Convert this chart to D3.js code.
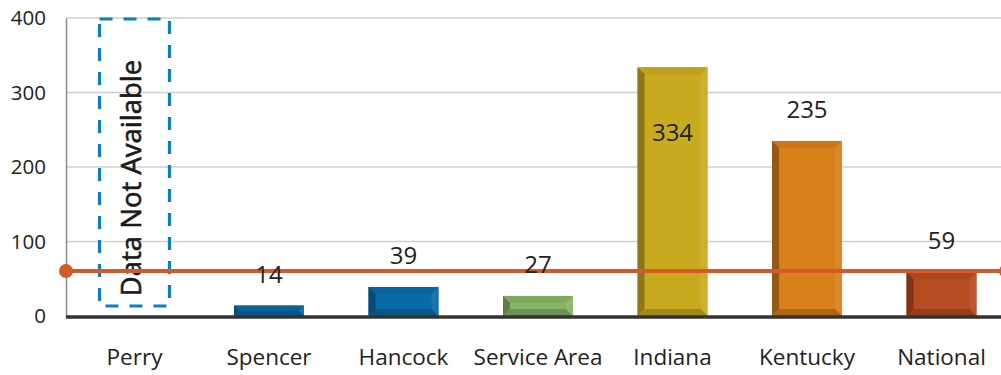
<!DOCTYPE html>
<html><head><meta charset="utf-8">
<script src="https://cdn.jsdelivr.net/npm/d3@7"></script>
<style>body{margin:0;background:#fff}svg{display:block;font-family:"Open Sans","Noto Sans",sans-serif}</style>
</head><body>
<svg id="c" width="1001" height="375"></svg>
<script>
const categories = ["Perry","Spencer","Hancock","Service Area","Indiana","Kentucky","National"];
const values = [null,14,39,27,334,235,59];
const colors = ["#0a7fc4","#0a6aa8","#0a6aa8","#8ab466","#c9aa1e","#d8801c","#b74c22"];
const yTicks = [0,100,200,300,400];
const benchmark = 59;
const naText = "Data Not Available";

(function(){
const svg = d3.select("#c");
const pl = 66, pr = 1001, pt = 18, pb = 316;
const x = d3.scaleBand().domain(categories).range([67.25, 1008.75]).paddingInner(0.48).paddingOuter(0.24);
const y = d3.scaleLinear().domain([0,400]).range([pb, pt]);

// gridlines
svg.append("g").selectAll("line").data(yTicks.filter(d=>d>0)).join("line")
  .attr("x1", pl).attr("x2", pr).attr("y1", d=>y(d)).attr("y2", d=>y(d))
  .attr("stroke", "#cfcfcf").attr("stroke-width", 1.3);

// y axis
const ya = svg.append("g").attr("transform", `translate(${pl},0)`)
  .call(d3.axisLeft(y).tickValues(yTicks).tickSize(0).tickPadding(20));
ya.select(".domain").attr("stroke", "#8a8a8a").attr("stroke-width", 1.5);
ya.selectAll("text").attr("font-size", 20.5).attr("fill", "#222").attr("font-family", "'Open Sans',sans-serif");

function shade(c, k){ return k>0 ? d3.interpolateRgb(c, "#fff")(k) : d3.interpolateRgb(c, "#000")(-k); }

// bars with bevel
const bw = x.bandwidth(), bev = 7;
const bars = svg.append("g").selectAll("g").data(categories.map((c,i)=>({c, v:values[i], col:colors[i]})).filter(d=>d.v!=null)).join("g");
bars.each(function(d){
  const g = d3.select(this);
  const x0 = x(d.c), x1 = x0 + bw, y0 = y(d.v), y1 = y(0);
  const b = Math.min(bev, (y1 - y0) / 2);
  g.append("rect").attr("x", x0).attr("y", y0).attr("width", bw).attr("height", y1-y0).attr("fill", d.col);
  g.append("polygon").attr("points", [[x0,y0],[x1,y0],[x1-b,y0+b],[x0+b,y0+b]].join(" ")).attr("fill", shade(d.col,-0.06));
  g.append("polygon").attr("points", [[x0,y0],[x0+b,y0+b],[x0+b,y1-b],[x0,y1]].join(" ")).attr("fill", shade(d.col,-0.3));
  g.append("polygon").attr("points", [[x1,y0],[x1-b,y0+b],[x1-b,y1-b],[x1,y1]].join(" ")).attr("fill", shade(d.col,0.06));
  g.append("polygon").attr("points", [[x0,y1],[x0+b,y1-b],[x1-b,y1-b],[x1,y1]].join(" ")).attr("fill", shade(d.col,-0.2));
});

// Perry not available box
const px = x("Perry");
svg.append("rect").attr("x", px).attr("y", pt+1).attr("width", bw).attr("height", 287)
  .attr("fill", "none").attr("stroke", "#0a7fc4").attr("stroke-width", 3.2).attr("stroke-dasharray", "13,11");
svg.append("text").attr("transform", `translate(${px+bw/2-1},${178}) rotate(-90)`)
  .attr("text-anchor", "middle").attr("dominant-baseline", "middle").attr("font-size", 27.5)
  .attr("fill", "#1a1a1a").attr("stroke", "#1a1a1a").attr("stroke-width", 0.6).text(naText);

// bottom axis
const xa = svg.append("g").attr("transform", `translate(0,${pb})`)
  .call(d3.axisBottom(x).tickSize(0).tickPadding(33));
xa.select(".domain").remove();
svg.append("line").attr("x1", pl).attr("x2", pr).attr("y1", pb+1).attr("y2", pb+1).attr("stroke", "#333").attr("stroke-width", 3.5);
xa.selectAll("text").attr("font-size", 22.5).attr("fill", "#222").attr("font-family", "'Open Sans',sans-serif");

// benchmark line
svg.append("line").attr("x1", pl).attr("x2", 1010).attr("y1", y(benchmark)-1).attr("y2", y(benchmark)-1)
  .attr("stroke", "#d45a2c").attr("stroke-width", 4);
svg.selectAll(".dot").data([pl, 1006]).join("circle").attr("class","dot")
  .attr("cx", d=>d).attr("cy", y(benchmark)-1).attr("r", 7).attr("fill", "#d45a2c");

// value labels
svg.append("g").selectAll("text").data(categories.map((c,i)=>({c, v:values[i]})).filter(d=>d.v!=null)).join("text")
  .attr("x", d=>x(d.c)+bw/2)
  .attr("y", d=> y(d.v)-23 < 60 ? y(d.v)+74 : y(d.v)-23)
  .attr("text-anchor", "middle").attr("font-size", 24).attr("fill", "#222").text(d=>d.v);
})();
</script>
</body></html>
